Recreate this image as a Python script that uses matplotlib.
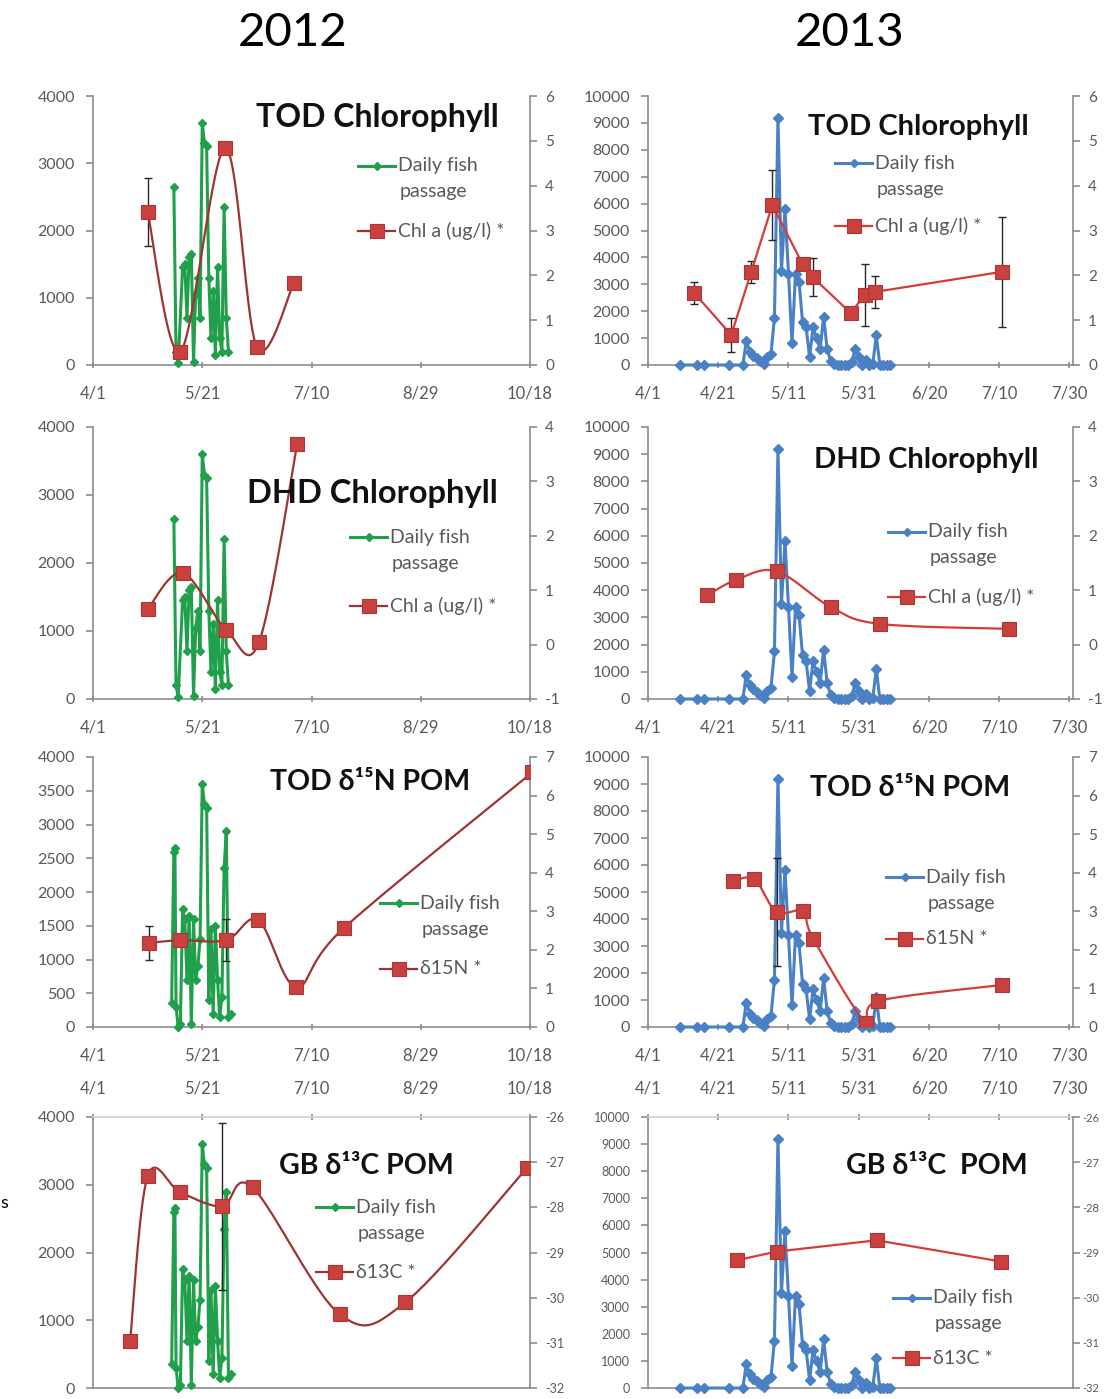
import numpy as np
import matplotlib
matplotlib.use("Agg")
import matplotlib.pyplot as plt

# ---------------- DATA ----------------
# x values are days after 4/1
x_ticks_2012 = [0, 50, 100, 150, 200]
x_labels_2012 = ["4/1", "5/21", "7/10", "8/29", "10/18"]
x_ticks_2013 = [0, 20, 40, 60, 80, 100, 120]
x_labels_2013 = ["4/1", "4/21", "5/11", "5/31", "6/20", "7/10", "7/30"]

# 2012 daily fish passage (Chlorophyll panels)
fish12a_day = [37, 38, 39, 41, 42, 43, 44, 45, 46, 47, 48, 49, 50, 51, 52, 53, 54, 55, 56, 57, 58, 59, 60, 61, 62]
fish12a_val = [2650, 200, 30, 1450, 1500, 700, 1600, 1650, 50, 1050, 1300, 700, 3600, 3300, 3250, 1300, 400, 1100, 150, 1450, 400, 200, 2350, 700, 200]
# 2012 daily fish passage (isotope panels)
fish12b_day = [36, 37, 37.5, 38, 39, 40, 41, 42, 43, 44, 45, 46, 47, 48, 49, 50, 51, 52, 53, 54, 55, 56, 57, 58, 59, 60, 61, 62, 63]
fish12b_val = [350, 2600, 2650, 300, 0, 50, 1750, 1600, 700, 1650, 50, 1600, 700, 900, 1300, 3600, 3300, 3250, 400, 1450, 200, 1500, 700, 150, 450, 2350, 2900, 150, 200]
# 2013 daily fish passage
fish13_day = [9, 14, 16, 23, 27, 28, 29, 30, 31, 32, 33, 34, 35, 36, 37, 38, 39, 40, 41, 42, 43, 44, 45, 46, 47,
              48, 49, 50, 51, 52, 53, 54, 55, 56, 57, 58, 59, 60, 61, 62, 63, 64, 65, 66, 67, 68, 69]
fish13_val = [0, 0, 0, 0, 0, 900, 500, 350, 250, 150, 50, 300, 400, 1750, 9200, 3500, 5800, 3400, 800, 3400, 3100,
              1600, 1400, 300, 1400, 1000, 600, 1800, 600, 150, 50, 0, 0, 0, 0, 100, 600, 300, 0, 200, 0, 50, 1100, 0, 0, 0, 0]

# 2012 secondary series
chl_tod12_day = [25, 40, 60.5, 75, 92]
chl_tod12_val = [3.41, 0.3, 4.84, 0.4, 1.83]
chl_tod12_err = [0.75, 0, 0, 0, 0]
chl_dhd12_day = [25, 41, 61, 76, 93.5]
chl_dhd12_val = [0.65, 1.32, 0.27, 0.05, 3.69]
n15_tod12_day = [25.7, 40, 61, 75.7, 93, 114.7, 201]
n15_tod12_val = [2.18, 2.25, 2.25, 2.77, 1.04, 2.56, 6.6]
n15_tod12_err = [0.45, 0, 0.55, 0, 0, 0, 0]
c13_gb12_day = [17, 25, 40, 59, 73, 113, 143, 198.6]
c13_gb12_val = [-30.95, -27.31, -27.67, -27.98, -27.56, -30.37, -30.1, -27.13]
c13_gb12_err = [0, 0, 0.1, 1.84, 0, 0, 0, 0]

# 2013 secondary series
chl_tod13_day = [13.1, 23.7, 29.4, 35.4, 44, 46.9, 57.7, 61.7, 64.6, 100.9]
chl_tod13_val = [1.61, 0.67, 2.08, 3.57, 2.25, 1.96, 1.16, 1.56, 1.63, 2.08]
chl_tod13_err = [0.25, 0.38, 0.25, 0.78, 0.1, 0.42, 0, 0.7, 0.35, 1.23]
chl_dhd13_day = [16.9, 25.1, 36.6, 52, 66, 102.9]
chl_dhd13_val = [0.91, 1.19, 1.35, 0.69, 0.38, 0.29]
n15_tod13_day = [24.3, 30.3, 36.6, 44, 47.1, 62, 65.4, 100.9]
n15_tod13_val = [3.78, 3.83, 2.98, 3.0, 2.28, 0.1, 0.67, 1.09]
n15_tod13_err = [0, 0, 1.4, 0, 0.15, 0, 0, 0]
c13_gb13_day = [25.4, 36.6, 65.1, 100.6]
c13_gb13_val = [-29.17, -28.98, -28.73, -29.2]

# ---------------- STYLE ----------------
FONT = ["Lato", "DejaVu Sans"]
plt.rcParams["font.family"] = FONT
plt.rcParams["axes.unicode_minus"] = False
GRAY_TXT = "#595959"
AXIS = "#8c8c8c"
GREEN = "#20a04a"
BLUE = "#4a80c4"
RED_M = "#c8413e"
RED_L12 = "#9e3432"
RED_L13 = "#d43c3a"

W, H = 1105, 1399
fig = plt.figure(figsize=(W / 100, H / 100), dpi=100)


def rect(x0, x1, yt, yb):
    return [x0 / W, 1 - yb / H, (x1 - x0) / W, (yb - yt) / H]


def smooth(x, y, n=30):
    P = np.column_stack([x, y]).astype(float)
    out = [P[0]]
    t = np.linspace(0, 1, n)[1:, None]
    for i in range(len(P) - 1):
        p0 = P[i - 1] if i > 0 else P[i]
        p1, p2 = P[i], P[i + 1]
        p3 = P[i + 2] if i + 2 < len(P) else P[i + 1]
        c1 = p1 + (p2 - p0) / 6
        c2 = p2 - (p3 - p1) / 6
        seg = (1 - t) ** 3 * p1 + 3 * (1 - t) ** 2 * t * c1 + 3 * (1 - t) * t ** 2 * c2 + t ** 3 * p2
        out.extend(seg)
    out = np.array(out)
    return out[:, 0], out[:, 1]


def style_axes(ax, ax2, xt, xl, ylim, ystep, y2lim, top_labels=False, ysize=11.5, y2size=11, y2pad=6):
    for s in ax.spines.values():
        s.set_color(AXIS)
        s.set_linewidth(1.2)
    ax.spines["right"].set_visible(False)
    ax.spines["top"].set_visible(top_labels)
    if top_labels:
        ax.spines["top"].set_color("#d0d0d0")
    for k, s in ax2.spines.items():
        s.set_visible(k == "right")
        s.set_color(AXIS)
        s.set_linewidth(1.2)
    ax.set_xlim(xt[0], xt[-1] + (1 if xt[-1] == 120 else 0))
    ax.set_xticks(xt)
    ax.set_xticklabels(xl)
    ax.set_ylim(*ylim)
    ax.set_yticks(np.arange(ylim[0], ylim[1] + 1, ystep))
    ax2.set_ylim(*y2lim)
    ax2.set_yticks(np.arange(y2lim[0], y2lim[1] + 1, 1))
    ax.tick_params(axis="y", colors=AXIS, labelcolor=GRAY_TXT, labelsize=ysize, length=5, width=1.2, pad=8, direction="out")
    ax2.tick_params(axis="y", colors=AXIS, labelcolor=GRAY_TXT, labelsize=y2size, length=5, width=1.2, pad=y2pad, direction="out")
    ax.tick_params(axis="x", colors=AXIS, labelcolor=GRAY_TXT, labelsize=12, length=5, width=1.2, pad=12.5,
                   direction="inout")
    if top_labels:
        ax.tick_params(axis="x", top=True, labeltop=True, bottom=False, labelbottom=False)
    ax.patch.set_alpha(0)
    ax2.patch.set_alpha(0)


def fish(ax, d, v, color, ms):
    ax.plot(d, v, color=color, lw=2.2, marker="D", ms=ms, mfc=color, mec=color, zorder=3, clip_on=False)


def red(ax2, d, v, err=None, smooth_line=False, lc=RED_L12):
    if smooth_line:
        sx, sy = smooth(d, v)
        ax2.plot(sx, sy, color=lc, lw=1.6, zorder=3)
    else:
        ax2.plot(d, v, color=lc, lw=1.6, zorder=3)
    if err is not None:
        idx = [i for i, e in enumerate(err) if e > 0]
        ax2.errorbar([d[i] for i in idx], [v[i] for i in idx], yerr=[err[i] for i in idx], fmt="none",
                     ecolor="#262626", elinewidth=1.0, capsize=3, capthick=1.0, zorder=2)
    ax2.plot(d, v, ls="none", marker="s", ms=9.5, mfc=RED_M, mec="#b03532", mew=0.8, zorder=4)


L = (93, 530)
R = (648, 1073)
rows = [(96, 365), (427, 699), (757, 1027), (1117, 1388)]

# ----- 2012 -----
ax = fig.add_axes(rect(*L, *rows[0])); ax2 = ax.twinx()
style_axes(ax, ax2, x_ticks_2012, x_labels_2012, (0, 4000), 1000, (0, 6))
fish(ax, fish12a_day, fish12a_val, GREEN, 4.5)
red(ax2, chl_tod12_day, chl_tod12_val, chl_tod12_err, True)

ax = fig.add_axes(rect(*L, *rows[1])); ax2 = ax.twinx()
style_axes(ax, ax2, x_ticks_2012, x_labels_2012, (0, 4000), 1000, (-1, 4))
fish(ax, fish12a_day, fish12a_val, GREEN, 4.5)
red(ax2, chl_dhd12_day, chl_dhd12_val, None, True)

ax = fig.add_axes(rect(*L, *rows[2])); ax2 = ax.twinx()
style_axes(ax, ax2, x_ticks_2012, x_labels_2012, (0, 4000), 500, (0, 7))
fish(ax, fish12b_day, fish12b_val, GREEN, 4.5)
red(ax2, n15_tod12_day, n15_tod12_val, n15_tod12_err, True)

ax = fig.add_axes(rect(*L, *rows[3])); ax2 = ax.twinx()
style_axes(ax, ax2, x_ticks_2012, x_labels_2012, (0, 4000), 1000, (-32, -26), top_labels=True, y2size=9)
fish(ax, fish12b_day, fish12b_val, GREEN, 4.5)
red(ax2, c13_gb12_day, c13_gb12_val, c13_gb12_err, True)

# ----- 2013 -----
ax = fig.add_axes(rect(*R, *rows[0])); ax2 = ax.twinx()
style_axes(ax, ax2, x_ticks_2013, x_labels_2013, (0, 10000), 1000, (0, 6))
fish(ax, fish13_day, fish13_val, BLUE, 5)
red(ax2, chl_tod13_day, chl_tod13_val, chl_tod13_err, False, RED_L13)

ax = fig.add_axes(rect(*R, *rows[1])); ax2 = ax.twinx()
style_axes(ax, ax2, x_ticks_2013, x_labels_2013, (0, 10000), 1000, (-1, 4))
fish(ax, fish13_day, fish13_val, BLUE, 5)
red(ax2, chl_dhd13_day, chl_dhd13_val, None, True, RED_L13)

ax = fig.add_axes(rect(*R, *rows[2])); ax2 = ax.twinx()
style_axes(ax, ax2, x_ticks_2013, x_labels_2013, (0, 10000), 1000, (0, 7))
fish(ax, fish13_day, fish13_val, BLUE, 5)
red(ax2, n15_tod13_day, n15_tod13_val, n15_tod13_err, True, RED_L13)

ax = fig.add_axes(rect(*R, *rows[3])); ax2 = ax.twinx()
style_axes(ax, ax2, x_ticks_2013, x_labels_2013, (0, 10000), 1000, (-32, -26), top_labels=True,
           ysize=9, y2size=8, y2pad=2)
fish(ax, fish13_day, fish13_val, BLUE, 5)
red(ax2, c13_gb13_day, c13_gb13_val, None, False, RED_L13)

# ----- overlay for titles and legends (pixel coordinates) -----
ov = fig.add_axes([0, 0, 1, 1], zorder=10)
ov.set_xlim(0, W); ov.set_ylim(H, 0); ov.axis("off")

ov.text(293, 33, "2012", ha="center", va="center", fontsize=34, color="black")
ov.text(850, 33, "2013", ha="center", va="center", fontsize=34, color="black")
ov.text(0, 1203, "s", ha="left", va="center", fontsize=13, color="black")

titles = [
    (377, 117, "TOD Chlorophyll", 23), (918, 127, "TOD Chlorophyll", 21),
    (372, 493, "DHD Chlorophyll", 23.5), (926, 460, "DHD Chlorophyll", 21),
    (370, 782, "TOD δ¹⁵N POM", 20.5), (910, 788, "TOD δ¹⁵N POM", 20.5),
    (366, 1166, "GB δ¹³C POM", 20.5), (937, 1166, "GB δ¹³C  POM", 20.5),
]
for x, y, t, fs in titles:
    ov.text(x, y, t, ha="center", va="center", fontsize=fs, fontweight="bold", color="#111111")


def legend(x, y1, y2, color, label2):
    ov.plot([x, x + 37], [y1, y1], color=color, lw=2.2)
    ov.plot([x + 18.5], [y1], marker="D", ms=4.5, color=color)
    ov.text(x + 40, y1, "Daily fish", va="center", ha="left", fontsize=14, color=GRAY_TXT)
    ov.text(x + 42, y1 + 26, "passage", va="center", ha="left", fontsize=14, color=GRAY_TXT)
    ov.plot([x, x + 37], [y2, y2], color=RED_L13 if color == BLUE else RED_L12, lw=1.6)
    ov.plot([x + 18.5], [y2], marker="s", ms=9.5, mfc=RED_M, mec="#b03532", mew=0.8)
    ov.text(x + 40, y2, label2, va="center", ha="left", fontsize=14, color=GRAY_TXT)


legend(358, 166, 231, GREEN, "Chl a (ug/l) *")
legend(835, 163, 226, BLUE, "Chl a (ug/l) *")
legend(350, 537, 606, GREEN, "Chl a (ug/l) *")
legend(888, 532, 597, BLUE, "Chl a (ug/l) *")
legend(380, 903, 969, GREEN, "δ15N *")
legend(886, 877, 939, BLUE, "δ15N *")
legend(316, 1207, 1272, GREEN, "δ13C *")
legend(893, 1298, 1358, BLUE, "δ13C *")

fig.savefig("out.png", dpi=100)
